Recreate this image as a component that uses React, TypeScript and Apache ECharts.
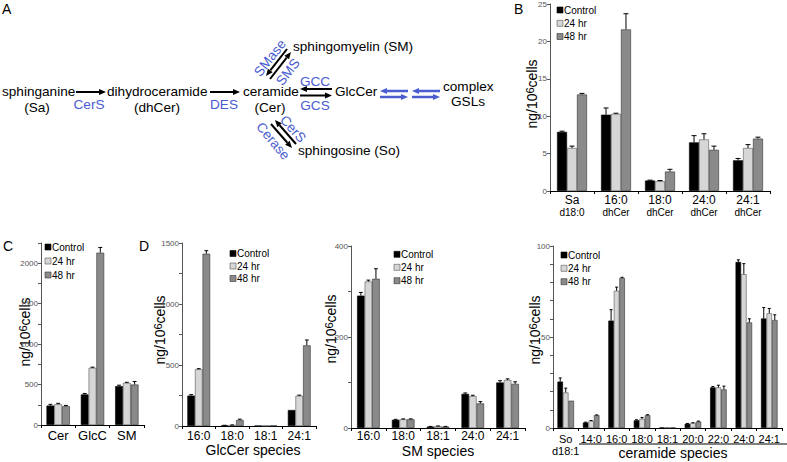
import React, { useEffect, useRef } from "react";
import * as echarts from "echarts";

const FONT = "Liberation Sans, Arial, Helvetica, sans-serif";
const BLUE = "#4a5ccf";
const AF = 13.6;

const seriesNames = ["Control", "24 hr", "48 hr"];
const seriesColors = ["#000000", "#d6d6d6", "#8a8a8a"];
const seriesBorders = ["#000000", "#555555", "#333333"];

// Panel B: sphingoid bases / dhCer
const bCategories = ["Sa\nd18:0", "16:0\ndhCer", "18:0\ndhCer", "24:0\ndhCer", "24:1\ndhCer"];
const bControl = [7.9, 10.2, 1.4, 6.5, 4.1];
const bControlErr = [0.1, 0.9, 0.05, 0.9, 0.25];
const b24 = [5.75, 10.3, 1.3, 6.9, 5.75];
const b24Err = [0.25, 0.1, 0.1, 0.75, 0.45];
const b48 = [12.9, 21.6, 2.6, 5.5, 7.0];
const b48Err = [0.15, 2.1, 0.3, 0.5, 0.2];

// Panel C: totals
const cCategories = ["Cer", "GlcC", "SM"];
const cControl = [240, 378, 480];
const cControlErr = [15, 12, 12];
const c24 = [256, 707, 520];
const c24Err = [12, 8, 8];
const c48 = [232, 2130, 500];
const c48Err = [10, 65, 38];

// Panel D: GlcCer species
const gCategories = ["16:0", "18:0", "18:1", "24:1"];
const gControl = [249, 5, 2, 131];
const gControlErr = [8, 1, 0, 0];
const g24 = [465, 8, 3, 248];
const g24Err = [5, 1, 0, 5];
const g48 = [1412, 49, 4, 661];
const g48Err = [25, 7, 0, 44];

// Panel D: SM species
const sCategories = ["16:0", "18:0", "18:1", "24:0", "24:1"];
const sControl = [291, 18, 3, 75, 100];
const sControlErr = [7, 1, 0.5, 2, 4];
const s24 = [322, 19, 4, 70, 105.5];
const s24Err = [3, 1, 0.5, 2, 2.5];
const s48 = [328, 19, 3, 54, 97];
const s48Err = [22, 1, 0.5, 4, 4.5];

// Panel D: ceramide species
const rCategories = ["So\nd18:1", "14:0", "16:0", "18:0", "18:1", "20:0", "22:0", "24:0", "24:1"];
const rControl = [25.5, 3.0, 59, 4.2, 0.3, 2.3, 22.3, 91.2, 60.2];
const rControlErr = [2, 0.2, 6, 0.3, 0, 0.2, 0.5, 1.2, 6];
const r24 = [19.5, 3.9, 75.4, 5.0, 0.3, 2.7, 22.3, 84.5, 63];
const r24Err = [2.4, 0.2, 2, 0.8, 0, 0.2, 1.2, 5.8, 2.7];
const r48 = [15, 7.0, 82.5, 7.0, 0.3, 3.5, 21.2, 58, 59.3];
const r48Err = [0, 0.2, 0.3, 0.3, 0, 0.3, 1.8, 2, 2.9];

const panels = [
  {
    grid: { left: 550, top: 3, width: 220, height: 188 },
    cats: bCategories, max: 25, interval: 5, labelEvery: 5, gap: 0.32,
    values: [bControl, b24, b48], errs: [bControlErr, b24Err, b48Err],
    catFont: 12, catFont2: 10, lh1: 13, lh2: 12, margin: 2,
  },
  {
    grid: { left: 41, top: 243, width: 103, height: 182 },
    cats: cCategories, max: 2250, interval: 250, labelEvery: 500, gap: 0.32,
    values: [cControl, c24, c48], errs: [cControlErr, c24Err, c48Err],
    catFont: 13, catFont2: 11, lh1: 14, lh2: 12, margin: 3,
  },
  {
    grid: { left: 182, top: 243, width: 134, height: 183 },
    cats: gCategories, max: 1500, interval: 250, labelEvery: 500, gap: 0.32,
    values: [gControl, g24, g48], errs: [gControlErr, g24Err, g48Err],
    catFont: 12, catFont2: 11, lh1: 12, lh2: 12, margin: 4,
  },
  {
    grid: { left: 351, top: 246, width: 174, height: 182 },
    cats: sCategories, max: 400, interval: 100, labelEvery: 200, gap: 0.35,
    values: [sControl, s24, s48], errs: [sControlErr, s24Err, s48Err],
    catFont: 12, catFont2: 11, lh1: 12, lh2: 12, margin: 2,
  },
  {
    grid: { left: 553, top: 246, width: 229, height: 182 },
    cats: rCategories, max: 100, interval: 10, labelEvery: 50, gap: 0.35,
    values: [rControl, r24, r48], errs: [rControlErr, r24Err, r48Err],
    catFont: 11, catFont2: 11, lh1: 12, lh2: 12, margin: 5,
  },
];

function arrow(x1: number, y1: number, x2: number, y2: number, color: string, w = 2, L = 7, H = 3) {
  const dx = x2 - x1, dy = y2 - y1;
  const len = Math.sqrt(dx * dx + dy * dy);
  const ux = dx / len, uy = dy / len;
  const bx = x2 - ux * L, by = y2 - uy * L;
  const nx = -uy, ny = ux;
  return [
    { type: "line", shape: { x1, y1, x2: bx, y2: by }, style: { stroke: color, lineWidth: w } },
    {
      type: "polygon",
      shape: { points: [[x2, y2], [bx + nx * H, by + ny * H], [bx - nx * H, by - ny * H]] },
      style: { fill: color },
    },
  ];
}

function txt(text: string, x: number, y: number, opts: any = {}) {
  return {
    type: "text",
    x, y,
    rotation: opts.rotation || 0,
    style: {
      text,
      fontSize: opts.fontSize || AF,
      fontFamily: FONT,
      fill: opts.color || "#000",
      align: opts.align || "left",
      verticalAlign: "middle",
    },
  };
}

function yTitle(x: number, y: number) {
  return {
    type: "text",
    x, y,
    rotation: Math.PI / 2,
    style: {
      text: "{a|ng/10}{s|6}{a|cells}",
      align: "center",
      verticalAlign: "middle",
      rich: {
        a: { fontSize: 14, fontFamily: FONT, fill: "#000", lineHeight: 16 },
        s: { fontSize: 11, fontFamily: FONT, fill: "#000", lineHeight: 9, verticalAlign: "top" },
      },
    },
  };
}

function legend(x: number, ys: number[]) {
  const out: any[] = [];
  ys.forEach((y, i) => {
    out.push({
      type: "rect",
      shape: { x, y: y - 3, width: 6, height: 6 },
      style: { fill: seriesColors[i], stroke: seriesBorders[i], lineWidth: 0.6 },
    });
    out.push(txt(seriesNames[i], x + 7, y, { fontSize: 10 }));
  });
  return out;
}

function buildGraphic() {
  const g: any[] = [];
  // panel letters
  g.push(txt("A", 2, 9, { fontSize: 14 }));
  g.push(txt("B", 514, 9, { fontSize: 14 }));
  g.push(txt("C", 3, 246, { fontSize: 14 }));
  g.push(txt("D", 139, 246, { fontSize: 14 }));

  // Panel A pathway
  g.push(txt("sphinganine", 2, 91));
  g.push(txt("(Sa)", 37, 107, { align: "center" }));
  g.push(...arrow(76, 92, 106, 92, "#000"));
  g.push(txt("CerS", 89, 104, { align: "center", color: BLUE }));
  g.push(txt("dihydroceramide", 107, 91));
  g.push(txt("(dhCer)", 157, 107, { align: "center" }));
  g.push(...arrow(210, 92, 240, 92, "#000"));
  g.push(txt("DES", 224, 104, { align: "center", color: BLUE }));
  g.push(txt("ceramide", 243, 91));
  g.push(txt("(Cer)", 270, 107, { align: "center" }));
  g.push(...arrow(332, 89, 300, 89, "#000"));
  g.push(...arrow(300, 95.5, 332, 95.5, "#000"));
  g.push(txt("GCC", 315, 81, { align: "center", color: BLUE }));
  g.push(txt("GCS", 315, 105, { align: "center", color: BLUE }));
  g.push(txt("GlcCer", 335, 91));
  g.push(...arrow(408, 91, 380, 91, BLUE, 2.5));
  g.push(...arrow(380, 97, 408, 97, BLUE, 2.5));
  g.push(...arrow(440, 91, 412, 91, BLUE, 2.5));
  g.push(...arrow(412, 97, 440, 97, BLUE, 2.5));
  g.push(txt("complex", 443, 86));
  g.push(txt("GSLs", 468, 101, { align: "center" }));
  g.push(txt("sphingomyelin (SM)", 293, 46));
  g.push(...arrow(287, 49, 266, 76, "#000"));
  g.push(...arrow(270, 79, 291, 52, "#000"));
  g.push(txt("SMase", 270, 58, { align: "center", color: BLUE, rotation: (52 * Math.PI) / 180 }));
  g.push(txt("SMS", 288, 72, { align: "center", color: BLUE, rotation: (52 * Math.PI) / 180 }));
  g.push(...arrow(296, 144, 275, 120, "#000"));
  g.push(...arrow(271, 124, 292, 148, "#000"));
  g.push(txt("CerS", 293, 129, { align: "center", color: BLUE, rotation: (-48 * Math.PI) / 180 }));
  g.push(txt("Cerase", 273, 141, { align: "center", color: BLUE, rotation: (-50 * Math.PI) / 180 }));
  g.push(txt("sphingosine (So)", 298, 150));

  // y-axis titles
  g.push(yTitle(532, 94));
  g.push(yTitle(25, 332));
  g.push(yTitle(160, 330));
  g.push(yTitle(331, 329));
  g.push(yTitle(535, 330));

  // x-axis titles
  g.push(txt("GlcCer species", 253, 450, { align: "center", fontSize: 14 }));
  g.push(txt("SM species", 438, 451, { align: "center", fontSize: 14 }));
  g.push(txt("ceramide species", 673, 453, { align: "center", fontSize: 14 }));
  g.push({ type: "line", shape: { x1: 579, y1: 444, x2: 787, y2: 444 }, style: { stroke: "#000", lineWidth: 1 } });

  // legends
  g.push(...legend(557, [10, 23.3, 36.5]));
  g.push(...legend(45, [247, 261, 275]));
  g.push(...legend(230, [253.5, 266, 278.5]));
  g.push(...legend(394, [254.3, 267.3, 280.7]));
  g.push(...legend(561, [255, 268.3, 281.7]));
  return g;
}

function buildOption() {
  const grid: any[] = [];
  const xAxis: any[] = [];
  const yAxis: any[] = [];
  const series: any[] = [];
  panels.forEach((p, pi) => {
    grid.push({ ...p.grid, containLabel: false });
    xAxis.push({
      type: "category",
      gridIndex: pi,
      data: p.cats,
      axisLine: { lineStyle: { color: "#000", width: 1 } },
      axisTick: { show: true, length: 3, lineStyle: { color: "#000" } },
      axisLabel: {
        interval: 0,
        margin: p.margin,
        color: "#000",
        hideOverlap: false,
        formatter: (v: string) => {
          const parts = v.split("\n");
          return parts.length > 1 ? `{a|${parts[0]}}\n{b|${parts[1]}}` : `{a|${parts[0]}}`;
        },
        rich: {
          a: { fontSize: p.catFont, lineHeight: p.lh1, fontFamily: FONT, color: "#000" },
          b: { fontSize: p.catFont2, lineHeight: p.lh2, fontFamily: FONT, color: "#000" },
        },
      },
      splitLine: { show: false },
    });
    yAxis.push({
      type: "value",
      gridIndex: pi,
      min: 0,
      max: p.max,
      interval: p.interval,
      axisLine: { show: true, lineStyle: { color: "#555", width: 1 } },
      axisTick: { show: true, length: 3, lineStyle: { color: "#555" } },
      splitLine: { show: false },
      axisLabel: {
        fontSize: 8,
        color: "#555",
        margin: 3,
        fontFamily: FONT,
        formatter: (v: number) => (Math.abs(v % p.labelEvery) < 1e-9 ? String(v) : ""),
      },
    });
    p.values.forEach((vals, si) => {
      series.push({
        type: "bar",
        name: seriesNames[si],
        xAxisIndex: pi,
        yAxisIndex: pi,
        data: vals,
        barGap: "0%",
        barCategoryGap: `${Math.round(p.gap * 100)}%`,
        itemStyle: { color: seriesColors[si], borderColor: seriesBorders[si], borderWidth: 0.6 },
        silent: true,
      });
    });
    p.values.forEach((vals, si) => {
      const errs = p.errs[si];
      series.push({
        type: "custom",
        name: seriesNames[si] + " err",
        xAxisIndex: pi,
        yAxisIndex: pi,
        silent: true,
        z: 5,
        encode: { x: 0, y: 1 },
        data: vals.map((v, i) => [i, v, errs[i]]),
        renderItem: (params: any, api: any) => {
          const i = api.value(0);
          const v = api.value(1);
          const e = api.value(2);
          if (!e) return null;
          const base = api.coord([i, v]);
          const top = api.coord([i, v + e]);
          const band = api.size([1, 0])[0];
          const bw = (band * (1 - p.gap)) / 3;
          const x = base[0] + (si - 1) * bw;
          const cap = Math.max(1.5, bw * 0.25);
          return {
            type: "group",
            children: [
              { type: "line", shape: { x1: x, y1: base[1], x2: x, y2: top[1] }, style: { stroke: "#000", lineWidth: 1 } },
              { type: "line", shape: { x1: x - cap, y1: top[1], x2: x + cap, y2: top[1] }, style: { stroke: "#000", lineWidth: 1 } },
            ],
          };
        },
      });
    });
  });
  return {
    animation: false,
    backgroundColor: "#ffffff",
    textStyle: { fontFamily: FONT },
    grid,
    xAxis,
    yAxis,
    series,
    graphic: buildGraphic(),
  };
}

export default function App() {
  const ref = useRef<HTMLDivElement>(null);
  useEffect(() => {
    if (!ref.current) return;
    const chart = echarts.init(ref.current, undefined, { renderer: "svg" });
    chart.setOption(buildOption() as any);
    return () => chart.dispose();
  }, []);
  return (
    <div
      ref={ref}
      style={{ position: "fixed", left: 0, top: 0, width: 787, height: 462, background: "#fff" }}
    />
  );
}
